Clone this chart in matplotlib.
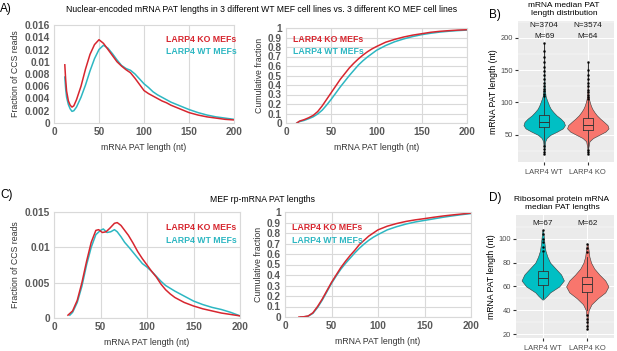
import numpy as np
import matplotlib.pyplot as plt

plt.rcParams['font.family'] = ['Liberation Sans', 'DejaVu Sans']

# --- colores ---
ROJO = '#d7262f'
TURQ = '#2db7c2'
VIOLIN_WT = '#00bfc4'
VIOLIN_KO = '#f8766d'
GRIS_GRID = '#d9d9d9'
GRIS_TXT = '#595959'

# --- A) mRNA nucleares: fraccion de lecturas CCS ---
a_len_ko = [12, 13, 14, 16, 18, 20, 22, 25, 30, 35, 40, 45, 50, 55, 60, 65, 70, 75, 80, 85, 90, 95,
            100, 105, 110, 115, 120, 125, 130, 140, 150, 160, 170, 180, 190, 200]
a_frac_ko = [0.0095, 0.0070, 0.0052, 0.0036, 0.0029, 0.0026, 0.0028, 0.0038, 0.0060, 0.0088, 0.0112,
             0.0128, 0.0136, 0.0130, 0.0120, 0.0110, 0.0100, 0.0093, 0.0087, 0.0082, 0.0073, 0.0063,
             0.0053, 0.0048, 0.0044, 0.0040, 0.0036, 0.0033, 0.0029, 0.0023, 0.0017, 0.0013, 0.0010,
             0.0008, 0.0006, 0.0005]
a_len_wt = [12, 13, 14, 16, 18, 20, 22, 25, 30, 35, 40, 45, 50, 55, 60, 65, 70, 75, 80, 85, 90, 95,
            100, 105, 110, 115, 120, 125, 130, 140, 150, 160, 170, 180, 190, 200]
a_frac_wt = [0.0075, 0.0055, 0.0042, 0.0030, 0.0023, 0.0019, 0.0020, 0.0026, 0.0042, 0.0062, 0.0085,
             0.0105, 0.0120, 0.0127, 0.0122, 0.0113, 0.0103, 0.0094, 0.0089, 0.0086, 0.0080, 0.0072,
             0.0064, 0.0058, 0.0051, 0.0046, 0.0042, 0.0038, 0.0034, 0.0028, 0.0022, 0.0017, 0.0013,
             0.0010, 0.0008, 0.0006]

# --- A) fraccion acumulada ---
a_cum_len = [12, 15, 20, 25, 30, 35, 40, 45, 50, 55, 60, 65, 70, 75, 80, 85, 90, 95, 100, 110, 120,
             130, 140, 150, 160, 170, 180, 190, 200]
a_cum_ko = [0.0, 0.02, 0.035, 0.055, 0.08, 0.12, 0.18, 0.25, 0.32, 0.39, 0.46, 0.52, 0.58, 0.63, 0.675,
            0.715, 0.75, 0.78, 0.805, 0.85, 0.88, 0.905, 0.925, 0.94, 0.955, 0.965, 0.972, 0.978, 0.982]
a_cum_wt = [0.0, 0.015, 0.027, 0.045, 0.065, 0.095, 0.135, 0.19, 0.25, 0.315, 0.38, 0.44, 0.50, 0.555,
            0.61, 0.655, 0.695, 0.73, 0.765, 0.815, 0.855, 0.885, 0.91, 0.93, 0.945, 0.957, 0.966, 0.973,
            0.978]

# --- C) mRNA de proteinas ribosomales ---
c_len_ko = [15, 20, 25, 30, 35, 40, 45, 48, 52, 56, 60, 65, 68, 72, 76, 80, 85, 90, 95, 100, 105, 110,
            115, 120, 125, 130, 140, 150, 160, 170, 180, 190, 200]
c_frac_ko = [0.0004, 0.0010, 0.0025, 0.0050, 0.0080, 0.0107, 0.0124, 0.0125, 0.0121, 0.0122, 0.0127,
             0.0134, 0.0135, 0.0131, 0.0124, 0.0117, 0.0106, 0.0094, 0.0084, 0.0075, 0.0066, 0.0058,
             0.0048, 0.0040, 0.0034, 0.0029, 0.0022, 0.0017, 0.0013, 0.0010, 0.0007, 0.0005, 0.0003]
c_len_wt = [17, 20, 25, 30, 35, 40, 45, 50, 53, 57, 61, 65, 68, 72, 76, 80, 85, 90, 95, 100, 105, 110,
            115, 120, 125, 130, 140, 150, 160, 170, 180, 190, 200]
c_frac_wt = [0.0004, 0.0008, 0.0022, 0.0045, 0.0075, 0.0100, 0.0118, 0.0124, 0.0126, 0.0121, 0.0122,
             0.0125, 0.0122, 0.0115, 0.0107, 0.0101, 0.0093, 0.0085, 0.0077, 0.0072, 0.0066, 0.0059,
             0.0052, 0.0046, 0.0042, 0.0038, 0.0031, 0.0024, 0.0019, 0.0015, 0.0012, 0.0008, 0.0003]

c_cum_len_ko = [15, 20, 25, 30, 35, 40, 45, 50, 55, 60, 65, 70, 75, 80, 85, 90, 95, 100, 110, 120, 130,
                140, 150, 160, 170, 180, 190, 200]
c_cum_ko = [0.0, 0.002, 0.01, 0.04, 0.10, 0.17, 0.25, 0.33, 0.40, 0.47, 0.53, 0.585, 0.635, 0.69, 0.73,
            0.77, 0.80, 0.83, 0.865, 0.89, 0.91, 0.925, 0.937, 0.95, 0.962, 0.972, 0.981, 0.99]
c_cum_len_wt = [17, 20, 25, 30, 35, 40, 45, 50, 55, 60, 65, 70, 75, 80, 85, 90, 95, 100, 110, 120, 130,
                140, 150, 160, 170, 180, 190, 200]
c_cum_wt = [0.0, 0.001, 0.008, 0.035, 0.09, 0.16, 0.24, 0.32, 0.39, 0.455, 0.51, 0.56, 0.61, 0.655, 0.695,
            0.73, 0.76, 0.785, 0.83, 0.86, 0.885, 0.905, 0.92, 0.935, 0.95, 0.963, 0.975, 0.985]

# --- B) violines de mediana de PAT ---
grupos = ['LARP4 WT', 'LARP4 KO']
b_n = ['N=3704', 'N=3574']
b_m = ['M=69', 'M=64']
b_coords_wt = [20, 30, 40, 45, 50, 55, 60, 65, 70, 75, 80, 85, 90, 95, 100, 105, 110, 120, 130, 150, 170, 192]
b_dens_wt = [0.01, 0.02, 0.05, 0.12, 0.30, 0.62, 0.90, 1.0, 0.95, 0.80, 0.60, 0.45, 0.32, 0.24, 0.18,
             0.12, 0.07, 0.03, 0.02, 0.012, 0.008, 0.004]
b_coords_ko = [20, 30, 40, 45, 50, 55, 60, 65, 70, 75, 80, 85, 90, 95, 100, 105, 110, 120, 140, 163]
b_dens_ko = [0.01, 0.025, 0.08, 0.25, 0.55, 0.85, 1.0, 0.95, 0.78, 0.60, 0.44, 0.32, 0.22, 0.15, 0.10,
             0.06, 0.035, 0.02, 0.01, 0.004]
b_caja_wt = dict(med=70, q1=62, q3=81, whislo=35, whishi=108)
b_caja_ko = dict(med=65, q1=57, q3=76, whislo=29, whishi=103)
b_out_wt = [20, 24, 28, 32, 110, 113, 117, 121, 125, 130, 136, 142, 148, 155, 163, 170, 180, 192]
b_out_ko = [20, 23, 26, 105, 108, 112, 116, 120, 125, 130, 136, 142, 150, 163]

# --- D) violines rp-mRNA ---
d_m = ['M=67', 'M=62']
d_coords_wt = [49, 52, 55, 60, 65, 70, 75, 80, 85, 90, 95, 100, 107]
d_dens_wt = [0.02, 0.2, 0.35, 0.78, 1.0, 0.87, 0.61, 0.35, 0.22, 0.13, 0.09, 0.06, 0.02]
d_coords_ko = [24, 30, 35, 40, 45, 50, 55, 60, 65, 70, 75, 80, 85, 90, 96]
d_dens_ko = [0.015, 0.02, 0.035, 0.065, 0.2, 0.49, 0.85, 1.0, 0.85, 0.57, 0.33, 0.18, 0.1, 0.065, 0.02]
d_caja_wt = dict(med=67, q1=61, q3=73, whislo=50, whishi=88)
d_caja_ko = dict(med=62, q1=55, q3=68, whislo=40, whishi=85)
d_out_wt = [90, 93, 97, 100, 104, 107]
d_out_ko = [24, 27, 30, 33, 36, 89, 92, 96]

W, H = 617, 351
fig = plt.figure(figsize=(W / 100, H / 100), dpi=100)

FS_TICK = 7.3
FS_TXT = 6.3


def caja(x0, y0, x1, y1):
    # rectangulo en pixeles -> fraccion de figura
    return [x0 / W, 1 - y1 / H, (x1 - x0) / W, (y1 - y0) / H]


def estilo_excel(ax, yticks, ylabels, ygrid):
    ax.set_xlim(0, 200)
    ax.set_xticks([0, 50, 100, 150, 200])
    ax.set_xticklabels(['0', '50', '100', '150', '200'])
    ax.set_yticks(yticks)
    ax.set_yticklabels(ylabels)
    ax.set_ylim(yticks[0], yticks[-1])
    ax.tick_params(length=0, labelsize=FS_TICK, colors=GRIS_TXT, pad=3)
    for lab in ax.get_xticklabels() + ax.get_yticklabels():
        lab.set_fontweight('bold')
    for s in ax.spines.values():
        s.set_color(GRIS_GRID)
        s.set_linewidth(0.8)
    ax.grid(axis='x', color=GRIS_GRID, lw=0.8)
    if ygrid:
        ax.grid(axis='y', color=GRIS_GRID, lw=0.8)
    ax.set_axisbelow(True)
    ax.set_xlabel('mRNA PAT length (nt)', fontsize=FS_TXT, color='#333333', labelpad=4)


def leyenda(ax, x, y1, y2):
    ax.text(x, y1, 'LARP4 KO MEFs', transform=ax.transAxes, color=ROJO, fontsize=FS_TXT,
            fontweight='bold', va='center')
    ax.text(x, y2, 'LARP4 WT MEFs', transform=ax.transAxes, color=TURQ, fontsize=FS_TXT,
            fontweight='bold', va='center')


fr_ticks_a = [0, 0.002, 0.004, 0.006, 0.008, 0.01, 0.012, 0.014, 0.016]
fr_labels_a = ['0', '0.002', '0.004', '0.006', '0.008', '0.01', '0.012', '0.014', '0.016']
cum_ticks = [round(0.1 * i, 1) for i in range(11)]
cum_labels = ['0', '0.1', '0.2', '0.3', '0.4', '0.5', '0.6', '0.7', '0.8', '0.9', '1']

# A1
ax = fig.add_axes(caja(54, 25, 234, 123))
ax.plot(a_len_wt, a_frac_wt, color=TURQ, lw=1.1)
ax.plot(a_len_ko, a_frac_ko, color=ROJO, lw=1.1)
estilo_excel(ax, fr_ticks_a, fr_labels_a, False)
ax.set_ylabel('Fraction of CCS reads', fontsize=FS_TXT, color='#333333', labelpad=3)
leyenda(ax, 0.62, 0.85, 0.73)

# A2
ax = fig.add_axes(caja(286, 28, 467, 123))
ax.plot(a_cum_len, a_cum_wt, color=TURQ, lw=1.1)
ax.plot(a_cum_len, a_cum_ko, color=ROJO, lw=1.1)
estilo_excel(ax, cum_ticks, cum_labels, True)
ax.set_ylabel('Cumulative fraction', fontsize=FS_TXT, color='#333333', labelpad=3)
leyenda(ax, 0.04, 0.88, 0.75)

# C1
ax = fig.add_axes(caja(54, 212, 240, 318))
ax.plot(c_len_wt, c_frac_wt, color=TURQ, lw=1.1)
ax.plot(c_len_ko, c_frac_ko, color=ROJO, lw=1.1)
estilo_excel(ax, [0, 0.005, 0.01, 0.015], ['0', '0.005', '0.01', '0.015'], True)
ax.set_ylabel('Fraction of CCS reads', fontsize=FS_TXT, color='#333333', labelpad=3)
leyenda(ax, 0.6, 0.85, 0.73)

# C2
ax = fig.add_axes(caja(285, 212, 471, 317))
ax.plot(c_cum_len_wt, c_cum_wt, color=TURQ, lw=1.1)
ax.plot(c_cum_len_ko, c_cum_ko, color=ROJO, lw=1.1)
estilo_excel(ax, cum_ticks, cum_labels, True)
ax.set_ylabel('Cumulative fraction', fontsize=FS_TXT, color='#333333', labelpad=3)
leyenda(ax, 0.04, 0.85, 0.73)


def violines(ax, coords, dens, cajas, outs, ylim, majors, minors):
    stats = []
    for c, d, cj in zip(coords, dens, cajas):
        stats.append(dict(coords=np.array(c, float), vals=np.array(d, float), mean=cj['med'],
                          median=cj['med'], min=c[0], max=c[-1]))
    vp = ax.violin(stats, positions=[1, 2], widths=0.95, showextrema=False, showmeans=False,
                   showmedians=False)
    for body, col in zip(vp['bodies'], [VIOLIN_WT, VIOLIN_KO]):
        body.set_facecolor(col)
        body.set_edgecolor('#3a3a3a')
        body.set_linewidth(0.4)
        body.set_alpha(1)
        body.set_zorder(2)
    bstats = []
    for cj, o in zip(cajas, outs):
        d = dict(cj)
        d['fliers'] = o
        bstats.append(d)
    ax.bxp(bstats, positions=[1, 2], widths=0.22, showcaps=False, patch_artist=False,
           boxprops=dict(color='#333333', lw=0.6), whiskerprops=dict(color='#333333', lw=0.6),
           medianprops=dict(color='#333333', lw=0.7),
           flierprops=dict(marker='o', markersize=0.9, markerfacecolor='black',
                           markeredgecolor='black', alpha=0.8), zorder=3)
    ax.set_facecolor('#ebebeb')
    ax.set_xlim(0.4, 2.6)
    ax.set_ylim(*ylim)
    ax.set_yticks(majors)
    ax.set_yticks(minors, minor=True)
    ax.set_xticks([1, 2])
    ax.set_xticklabels(grupos)
    ax.grid(which='major', color='white', lw=0.7)
    ax.grid(which='minor', color='white', lw=0.35)
    ax.set_axisbelow(True)
    for s in ax.spines.values():
        s.set_visible(False)
    ax.tick_params(which='major', length=2, color='#333333', labelsize=5.4, labelcolor='#4d4d4d', pad=1.5)
    ax.tick_params(axis='x', pad=3)
    ax.tick_params(which='minor', length=0)
    ax.set_ylabel('mRNA PAT length (nt)', fontsize=6.2, color='black', labelpad=2)


# B
ax = fig.add_axes(caja(518, 21, 614, 162))
violines(ax, [b_coords_wt, b_coords_ko], [b_dens_wt, b_dens_ko], [b_caja_wt, b_caja_ko],
         [b_out_wt, b_out_ko], (8, 226), [50, 100, 150, 200], [25, 75, 125, 175, 225])
for i in range(2):
    ax.text(i + 1, 219, b_n[i], ha='center', va='center', fontsize=5.9, color='#1a1a1a')
    ax.text(i + 1, 202, b_m[i], ha='center', va='center', fontsize=5.9, color='#1a1a1a')

# D
ax = fig.add_axes(caja(516, 215, 614, 338))
violines(ax, [d_coords_wt, d_coords_ko], [d_dens_wt, d_dens_ko], [d_caja_wt, d_caja_ko],
         [d_out_wt, d_out_ko], (16.7, 120), [20, 40, 60, 80, 100], [30, 50, 70, 90, 110])
for i in range(2):
    ax.text(i + 1, 113, d_m[i], ha='center', va='center', fontsize=5.9, color='#1a1a1a')

# --- titulos y letras de panel ---
fig.text(262 / W, 1 - 10 / H, 'Nuclear-encoded mRNA PAT lengths in 3 different WT MEF cell lines vs. '
         '3 different KO MEF cell lines', ha='center', va='center', fontsize=6.2)
fig.text(262 / W, 1 - 200 / H, 'MEF rp-mRNA PAT lengths', ha='center', va='center', fontsize=6.2)
fig.text(564 / W, 1 - 9.5 / H, 'mRNA median PAT\nlength distribution', ha='center', va='center',
         fontsize=6, linespacing=1.1)
fig.text(562 / W, 1 - 203.5 / H, 'Ribosomal protein mRNA\nmedian PAT lengths', ha='center', va='center',
         fontsize=6, linespacing=1.1)
for letra, x, y in [('A)', 0, 9), ('B)', 489, 15), ('C)', 0, 195), ('D)', 489, 198)]:
    fig.text(x / W, 1 - y / H, letra, ha='left', va='center', fontsize=8.5)

fig.savefig('out.png', dpi=100)
